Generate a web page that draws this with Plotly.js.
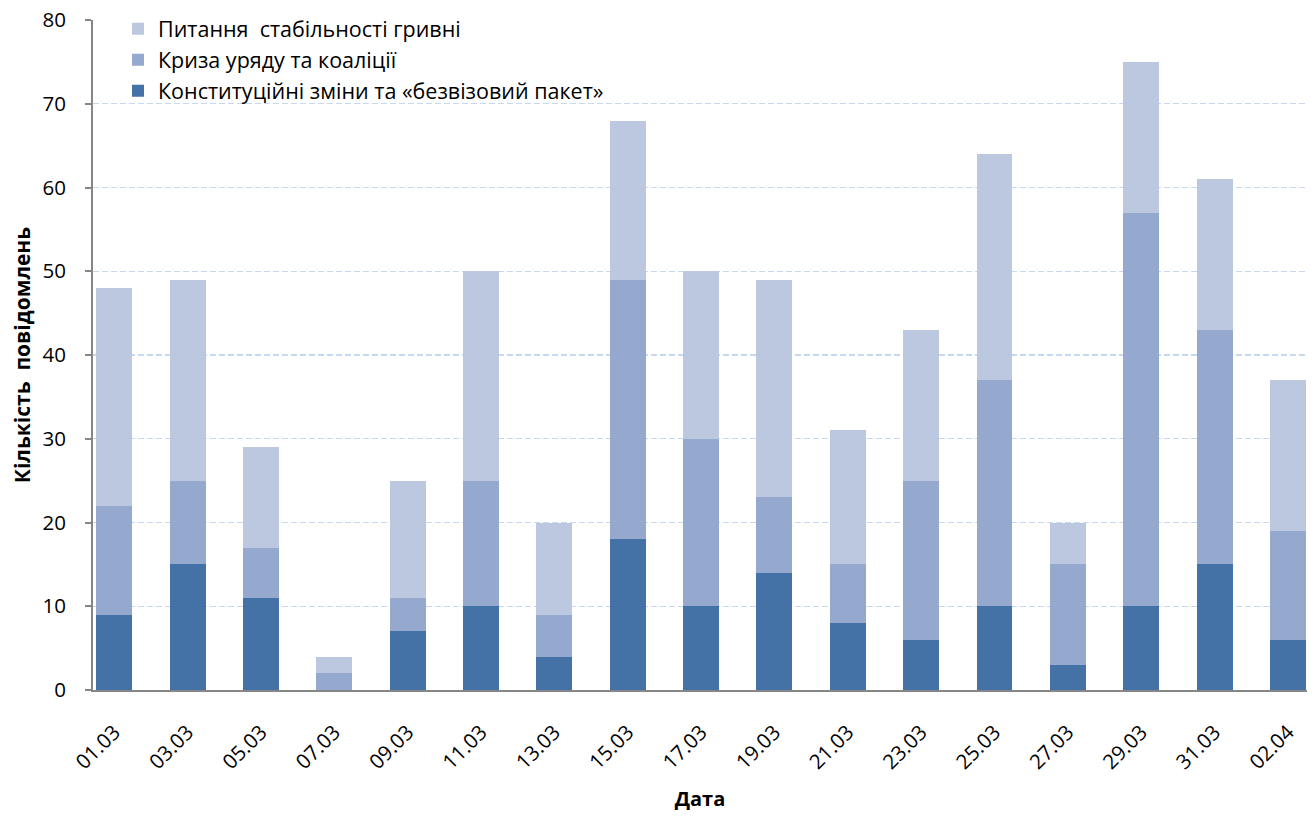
<!DOCTYPE html>
<html>
<head>
<meta charset="utf-8">
<script src="https://cdn.plot.ly/plotly-3.0.1.min.js"></script>
<style>html,body{margin:0;padding:0;background:#fff;}#chart{width:1316px;height:816px;}</style>
</head>
<body>
<div id="chart"></div>
<script>
var dates = ["01.03","03.03","05.03","07.03","09.03","11.03","13.03","15.03","17.03","19.03","21.03","23.03","25.03","27.03","29.03","31.03","02.04"];
var seriesNames = ["Конституційні зміни та «безвізовий пакет»","Криза уряду та коаліції","Питання  стабільності гривні"];
var constitution = [9,15,11,0,7,10,4,18,10,14,8,6,10,3,10,15,6];
var crisis = [13,10,6,2,4,15,5,31,20,9,7,19,27,12,47,28,13];
var hryvnia = [26,24,12,2,14,25,11,19,20,26,16,18,27,5,18,18,18];
var colors = ["#4472A7","#95A9CF","#BCC8E0"];
var FONT = "Open Sans, Noto Sans, sans-serif";

var data = [constitution, crisis, hryvnia].map(function(v, i){
  return {type:"bar", name: seriesNames[i], x: dates, y: v,
    marker:{color: colors[i], line:{width:0}}, width:0.49, hoverinfo:"y"};
});

var layout = {
  width:1316, height:816,
  margin:{l:93, r:9, t:19, b:126},
  barmode:"stack",
  paper_bgcolor:"#fff", plot_bgcolor:"#fff",
  font:{family:FONT, size:20, color:"#000"},
  showlegend:true,
  legend:{x:0.0206, y:1.016, xanchor:"left", yanchor:"top", traceorder:"reversed",
    font:{family:FONT, size:21.5, color:"#000"}, bgcolor:"rgba(0,0,0,0)", itemwidth:30, tracegroupgap:0},
  xaxis:{type:"category", range:[-0.29, 16.26], tickangle:-45, showline:true, linecolor:"#868686", linewidth:2,
    ticks:"", showgrid:false, tickfont:{family:FONT, size:20.5}, ticklabelstandoff:20, automargin:false,
    title:{text:"<b>Дата</b>", font:{family:FONT, size:20}, standoff:18}},
  yaxis:{range:[0,80], dtick:10, showline:true, linecolor:"#868686", linewidth:2,
    ticks:"outside", ticklen:6, tickcolor:"#868686", tickwidth:2, ticklabelstandoff:15,
    showgrid:true, gridcolor:"#C6D9F1", gridwidth:1.3, griddash:"6px,3px", zeroline:false,
    tickfont:{family:FONT, size:20.5}, automargin:false,
    title:{text:"<b>Кількість  повідомлень</b>", font:{family:FONT, size:21}, standoff:6}}
};

Plotly.newPlot("chart", data, layout, {displayModeBar:false, staticPlot:true});
</script>
</body>
</html>
